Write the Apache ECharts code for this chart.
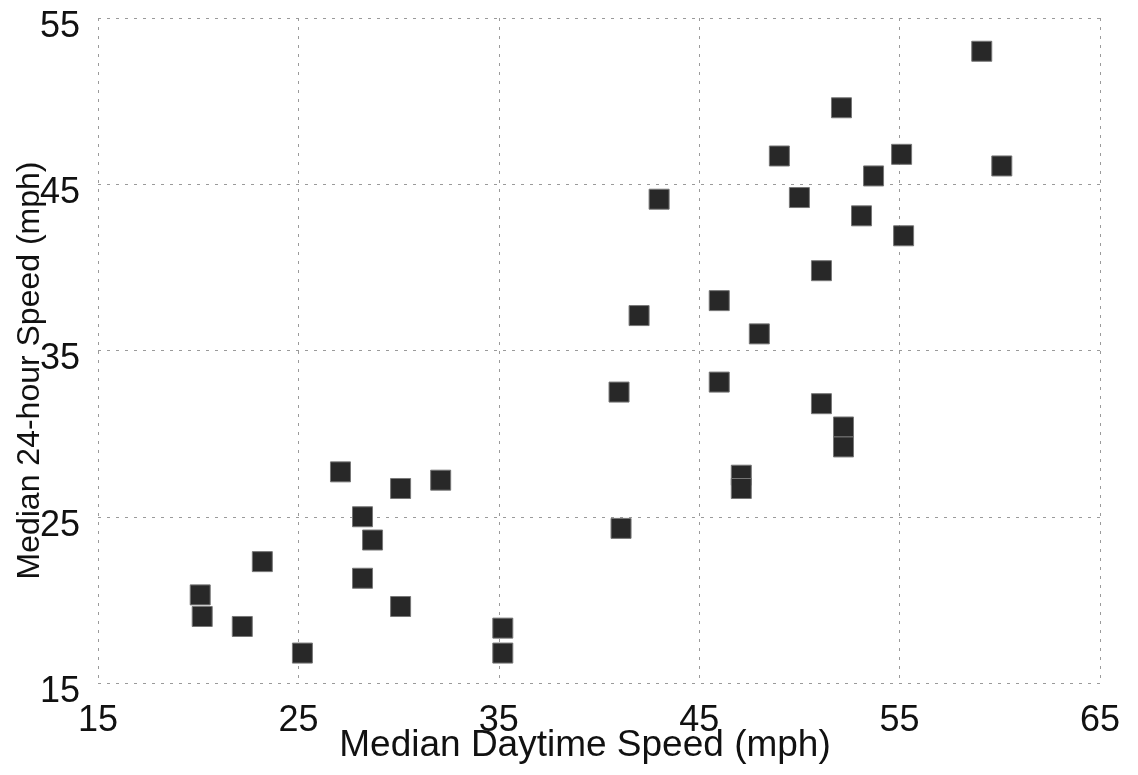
<!DOCTYPE html>
<html>
<head>
<meta charset="utf-8">
<script src="https://cdn.jsdelivr.net/npm/echarts@6/dist/echarts.min.js"></script>
<style>
  html, body { margin: 0; padding: 0; background: #fff; }
  #speeds { width: 1138px; height: 775px; }
</style>
</head>
<body>
<div id="speeds"></div>
<script>
// median daytime speed (x) vs median 24-hour speed (y), mph
var daytime = [20.1, 20.2, 22.2, 23.2, 25.2, 27.1, 28.2, 28.7, 28.2, 30.1, 30.1, 32.1,
  35.2, 35.2, 41.1, 41.0, 42.0, 43.0, 46.0, 46.0, 47.1, 47.1, 48.0, 49.0,
  50.0, 51.1, 51.1, 52.2, 52.2, 52.1, 53.1, 53.7, 55.1, 55.2, 59.1, 60.1];
var allDay = [20.3, 19.0, 18.4, 22.3, 16.8, 27.7, 25.0, 23.6, 21.3, 26.7, 19.6, 27.2,
  18.3, 16.8, 24.3, 32.5, 37.1, 44.1, 38.0, 33.1, 27.5, 26.7, 36.0, 46.7,
  44.2, 39.8, 31.8, 30.4, 29.2, 49.6, 43.1, 45.5, 46.8, 41.9, 53.0, 46.1];
var xTicks = [15, 25, 35, 45, 55, 65];
var yTicks = [15, 25, 35, 45, 55];

var points = [];
for (var i = 0; i < daytime.length; i++) {
  points.push([daytime[i], allDay[i]]);
}

var chart = echarts.init(document.getElementById("speeds"));
var gridLine = { show: true, lineStyle: { color: "#9a9a9a", type: [3, 6], width: 1 } };
var option = {
  animation: false,
  backgroundColor: "#fff",
  grid: { left: 98, right: 38, top: 18, bottom: 92, outerBoundsMode: "none", containLabel: false },
  xAxis: {
    type: "value",
    min: xTicks[0],
    max: xTicks[xTicks.length - 1],
    interval: 10,
    name: "Median Daytime Speed (mph)",
    nameLocation: "middle",
    nameGap: 44,
    nameMoveOverlap: false,
    nameTextStyle: { fontFamily: "Liberation Sans", fontSize: 37, color: "#111", padding: [0, 28, 0, 0] },
    axisLine: { show: false },
    axisTick: { show: false },
    splitLine: gridLine,
    axisLabel: { fontFamily: "Liberation Sans", fontSize: 36, color: "#111", margin: 20 }
  },
  yAxis: {
    type: "value",
    min: yTicks[0],
    max: yTicks[yTicks.length - 1],
    interval: 10,
    name: "Median 24-hour Speed (mph)",
    nameLocation: "middle",
    nameGap: 52,
    nameMoveOverlap: false,
    nameTextStyle: { fontFamily: "Liberation Sans", fontSize: 32, color: "#111", padding: [0, 40, 0, 0] },
    axisLine: { show: false },
    axisTick: { show: false },
    splitLine: gridLine,
    axisLabel: {
      margin: 18,
      formatter: function (v) { return "{t|" + v + "}"; },
      rich: { t: { fontFamily: "Liberation Sans", fontSize: 36, color: "#111", padding: [18, 0, 0, 0] } }
    }
  },
  series: [
    {
      type: "scatter",
      data: points,
      symbol: "rect",
      symbolSize: 20,
      itemStyle: { color: "#282828", borderColor: "#777", borderWidth: 1, opacity: 1 }
    }
  ]
};
chart.setOption(option);
</script>
</body>
</html>
